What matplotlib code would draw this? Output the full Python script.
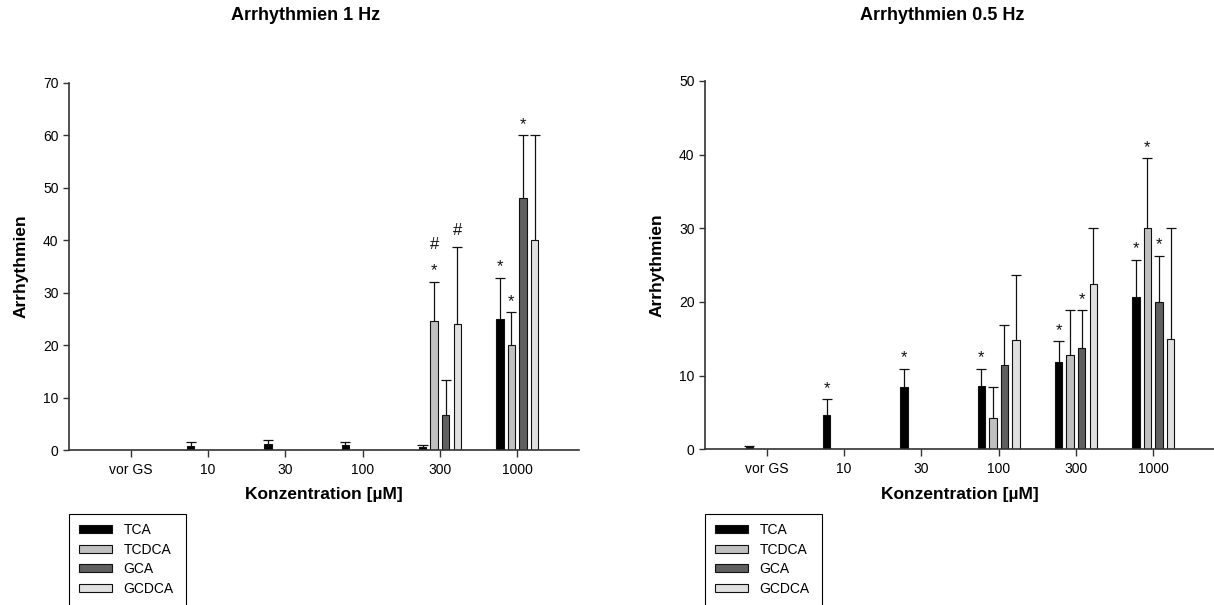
import matplotlib
matplotlib.use('Agg')
import matplotlib.pyplot as plt
import matplotlib.patches as mpatches
import numpy as np

plt.rcParams['font.family'] = ['Liberation Sans', 'DejaVu Sans']

# Daten
konzentrationen = ['vor GS', '10', '30', '100', '300', '1000']
substanzen = ['TCA', 'TCDCA', 'GCA', 'GCDCA']
farben = ['#000000', '#c0c0c0', '#606060', '#e0e0e0']

# Arrhythmien 1 Hz (Mittelwert, Fehler)
hz1_tca = [0, 0.8, 1.1, 0.9, 0.6, 25.0]
hz1_tca_err = [0, 0.8, 0.9, 0.6, 0.4, 7.9]
hz1_tcdca = [0, 0, 0, 0, 24.7, 20.0]
hz1_tcdca_err = [0, 0, 0, 0, 7.4, 6.3]
hz1_gca = [0, 0, 0, 0, 6.7, 48.0]
hz1_gca_err = [0, 0, 0, 0, 6.6, 12.0]
hz1_gcdca = [0, 0, 0, 0, 24.0, 40.0]
hz1_gcdca_err = [0, 0, 0, 0, 14.7, 20.0]

# Arrhythmien 0.5 Hz
hz05_tca = [0.25, 4.7, 8.4, 8.6, 11.85, 20.7]
hz05_tca_err = [0.25, 2.1, 2.5, 2.3, 2.85, 5.0]
hz05_tcdca = [0, 0, 0, 4.25, 12.85, 30.0]
hz05_tcdca_err = [0, 0, 0, 4.25, 6.05, 9.5]
hz05_gca = [0, 0, 0, 11.4, 13.7, 20.0]
hz05_gca_err = [0, 0, 0, 5.5, 5.2, 6.3]
hz05_gcdca = [0, 0, 0, 14.9, 22.5, 15.0]
hz05_gcdca_err = [0, 0, 0, 8.7, 7.5, 15.0]

# Signifikanzen: (Gruppe, Substanz, Symbol, Ebene)
sig_1hz = [(4, 1, '*', 0), (4, 1, '#', 1), (4, 3, '#', 0),
           (5, 0, '*', 0), (5, 1, '*', 0), (5, 2, '*', 0)]
sig_05hz = [(1, 0, '*', 0), (2, 0, '*', 0), (3, 0, '*', 0),
            (4, 0, '*', 0), (4, 2, '*', 0),
            (5, 0, '*', 0), (5, 1, '*', 0), (5, 2, '*', 0)]

W, H = 1214, 605
fig = plt.figure(figsize=(W / 100, H / 100), dpi=100)

breite = 0.097
abstand = 0.15
kappe = 0.13
x = np.arange(len(konzentrationen))
spine_col = '#333333'


def panel(rect, titel, werte, fehler, sig, ymax):
    ax = fig.add_axes(rect)
    bars = []
    for i, (w, f) in enumerate(zip(werte, fehler)):
        pos = x + (i - 1.5) * abstand
        b = ax.bar(pos, w, width=breite, color=farben[i], edgecolor='#111111',
                   linewidth=0.8, label=substanzen[i], zorder=2)
        bars.append(b)
        w = np.array(w, dtype=float)
        f = np.array(f, dtype=float)
        m = f > 0
        # nur obere Fehlerbalken
        ax.vlines(pos[m], w[m], w[m] + f[m], color='#111111', linewidth=0.9, zorder=1)
        ax.hlines(w[m] + f[m], pos[m] - kappe / 2, pos[m] + kappe / 2,
                  color='#111111', linewidth=0.9, zorder=1)
    for g, s, sym, lvl in sig:
        top = werte[s][g] + fehler[s][g]
        if sym == '*':
            off = 4.6
        else:
            off = 8.8
        if lvl == 1:
            off = 23.7
        ax.annotate(sym, xy=(x[g] + (s - 1.5) * abstand, top), xytext=(0, off),
                    textcoords='offset points', ha='center', va='baseline',
                    fontsize=12, color='#111111')
    ax.set_xlim(-0.8, 5.8)
    ax.set_ylim(0, ymax)
    ax.set_yticks(np.arange(0, ymax + 1, 10))
    ax.set_xticks(x)
    ax.set_xticklabels(konzentrationen)
    ax.spines['top'].set_visible(False)
    ax.spines['right'].set_visible(False)
    for sp in ['left', 'bottom']:
        ax.spines[sp].set_color(spine_col)
        ax.spines[sp].set_linewidth(1.2)
        ax.spines[sp].set_clip_on(False)
    ax.tick_params(axis='y', direction='out', length=4, width=1, colors=spine_col,
                   labelcolor='black', labelsize=10, pad=3.5)
    ax.tick_params(axis='x', direction='out', length=5, width=1, colors=spine_col,
                   labelcolor='black', labelsize=10, pad=4.5)

    l, b, w_, h_ = rect
    cx = l + w_ / 2
    fig.text(cx - 18 / W, 1 - 16 / H, titel, ha='center', va='center',
             fontsize=13, fontweight='bold')
    fig.text(cx, 1 - 494 / H, 'Konzentration [µM]', ha='center', va='center',
             fontsize=12.5, fontweight='bold')
    fig.text(l - 48 / W, b + h_ / 2, 'Arrhythmien', ha='center', va='center',
             rotation=90, fontsize=12.5, fontweight='bold')

    # Legende mit Rahmen (unten vom Bildrand abgeschnitten)
    fig.add_artist(mpatches.Rectangle((l, 1 - 620 / H), 117 / W, 106 / H,
                                      transform=fig.transFigure, fill=False,
                                      edgecolor='black', linewidth=0.8))
    fig.legend(handles=bars, labels=substanzen, loc='upper left',
               bbox_to_anchor=(l + 10 / W, 1 - 523 / H), frameon=False,
               fontsize=10, borderpad=0, borderaxespad=0, handlelength=2.4,
               handleheight=0.5, handletextpad=0.8, labelspacing=0.4)
    return ax


panel([69 / W, 1 - 450 / H, 510 / W, 367 / H], 'Arrhythmien 1 Hz',
      [hz1_tca, hz1_tcdca, hz1_gca, hz1_gcdca],
      [hz1_tca_err, hz1_tcdca_err, hz1_gca_err, hz1_gcdca_err], sig_1hz, 70)
panel([705 / W, 1 - 449.3 / H, 510 / W, 368.3 / H], 'Arrhythmien 0.5 Hz',
      [hz05_tca, hz05_tcdca, hz05_gca, hz05_gcdca],
      [hz05_tca_err, hz05_tcdca_err, hz05_gca_err, hz05_gcdca_err], sig_05hz, 50)

fig.savefig('out.png', dpi=100)
